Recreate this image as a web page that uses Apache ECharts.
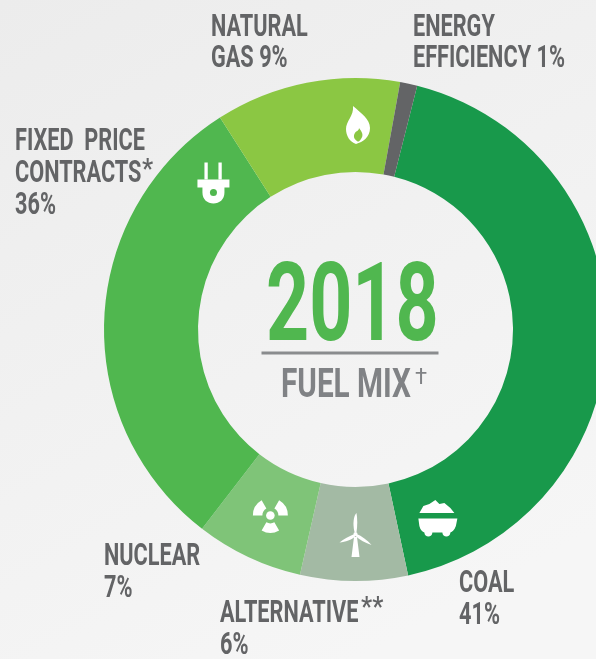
<!DOCTYPE html>
<html><head><meta charset="utf-8">
<style>html,body{margin:0;padding:0;background:#f0f0f0}#c{width:596px;height:659px}</style>
<script src="https://cdn.jsdelivr.net/npm/echarts@6/dist/echarts.min.js"></script>
</head><body><div id="c"></div>
<script>
// Clockwise from the top of the ring, as drawn (share of the circle)
const categories = ['Coal','Alternative','Nuclear','Fixed Price Contracts','Natural Gas','Energy Efficiency'];
const arcShares  = [42.7, 6.9, 6.9, 30.5, 11.9, 1.1];
const printedPct = [41, 6, 7, 36, 9, 1];
const colors     = ['#18994b','#a3baa4','#7fc478','#50b74f','#8bc743','#636466'];
const title = '2018';
const subtitle = 'FUEL MIX';

const FONT = 'Roboto,"Liberation Sans",sans-serif';
const CX = 355.5, CY = 329.5;
const INK = '#636466';

// x = left edge, y = baseline of capitals
function txt(s, x, y, size, sx, fill, weight){
  return {type:'text', x:x, y:y-0.745*size, scaleX:sx, silent:true,
    style:{text:s, x:0, y:0, fill:fill||INK, font:(weight||'700')+' '+size+'px '+FONT, textAlign:'left'}};
}
const S=31, SX=0.70;
const labels = [
  txt('NATURAL',211,36,S,SX), txt('GAS '+printedPct[4]+'%',211,67,S,SX),
  txt('ENERGY',413,36,S,SX), txt('EFFICIENCY '+printedPct[5]+'%',413,67,S,SX),
  txt('FIXED  PRICE',15,150,S,SX), txt('CONTRACTS',15,182,S,SX), txt('*',142,178,28,0.9,INK,'500'),
  txt(printedPct[3]+'%',15,214,S,SX),
  txt('NUCLEAR',104,565,S,SX), txt(printedPct[2]+'%',104,597,S,SX),
  txt('ALTERNATIVE',220,622,S,SX), txt('**',361,616,28,0.9,INK,'500'), txt(printedPct[1]+'%',220,654,S,SX),
  txt('COAL',459,592,S,SX), txt(printedPct[0]+'%',459,624,S,SX),
  txt(title,266,339,109,0.69,'#50b74f','700'),
  txt(subtitle,281,397,40,0.743,'#808285','700'),
  txt('\u2020',415,384,22,1,'#808285','400'),
  {type:'rect',silent:true,shape:{x:261.5,y:351.5,width:177,height:3},style:{fill:'#8a8c8e'}}
];

// Icons, one per slice, sitting at mid-ring
const iconAngles = {flame:0.7, plug:316, radiation:204.6, turbine:180, cart:156.4};
const iconNames = Object.keys(iconAngles);
const W='#ffffff';
function p(d,fill){return {type:'path',shape:{pathData:d},style:{fill:fill||W}};}
function blade(mid){const a=mid*Math.PI/180,h=Math.PI/6;
  return {type:'sector',shape:{cx:0,cy:0,r0:8,r:17.5,startAngle:a-h,endAngle:a+h,clockwise:true},style:{fill:W}};}
const iconParts = {
 flame:[p('M-5 -19C3 -12 12 -6 12 3C12 12 5 17 -2 19C-8 17 -12 11 -12 4C-12 -4 -4 -9 -5 -19Z'),
        p('M1 3C4 7 6 10 3 14C1 17 0 17 -1 16C-4 14 -5 11 -3 8C-2 6 1 6 1 3Z',colors[4])],
 plug:[p('M-9 -20H-5.7V-3H-9ZM5 -20H8.3V-3H5Z'),
       p('M-16 -3H16V5H11V10C11 17 6 21 0 21C-6 21 -11 17 -11 10V5H-16Z'),
       {type:'circle',shape:{cx:0,cy:10,r:3.5},style:{fill:colors[3]}}],
 radiation:[blade(-150),blade(-30),blade(90),{type:'circle',shape:{cx:0,cy:0,r:4.3},style:{fill:W}}],
 turbine:[p('M-1 -2C-3 -10 -2 -18 1 -21C2 -15 2 -8 1 -2Z'),
          p('M-1 0C-6 2 -12 5 -16 8.5C-10 8 -4 6 0 2Z'),
          p('M1 0C6 2 12 6 16 11C10 9 4 6 0 2Z'),
          p('M-1.5 3H1.5L4 23H-4Z'),
          {type:'circle',shape:{cx:0,cy:0,r:2},style:{fill:W}}],
 cart:[p('M-18 -4L-14 -11L-8 -13L-2 -17L2 -13L7 -14L13 -9L17 -4Z'),
       p('M-19 1.5H20L18.5 9C17 13 15 15 13 15.5C13 18 11 19.5 9 19.5C7 19.5 5 18 5 15.5H-5C-5 18 -7 19.5 -9 19.5C-11 19.5 -13 18 -13 15.5C-15 15 -17 13 -18 9Z')]
};

const chart = echarts.init(document.getElementById('c'),null,{renderer:'canvas'});
chart.setOption({
  animation:false,
  backgroundColor:{type:'linear',x:0,y:0,x2:0.6,y2:1,colorStops:[{offset:0,color:'#ececec'},{offset:1,color:'#f6f6f6'}]},
  graphic:{elements:labels},
  series:[
   {type:'pie',center:[CX,CY],radius:[157.5,251.5],startAngle:75.8,clockwise:true,silent:true,
    label:{show:false},labelLine:{show:false},
    itemStyle:{borderWidth:0},
    data:categories.map((n,i)=>({name:n,value:arcShares[i],itemStyle:{color:colors[i]}}))},
   {type:'custom',coordinateSystem:'none',silent:true,z:5,
    data:iconNames.map(n=>[iconAngles[n]]),
    renderItem:function(params,api){
      const a=api.value(0)*Math.PI/180, R=204.5;
      return {type:'group',x:CX+R*Math.sin(a),y:CY-R*Math.cos(a),children:iconParts[iconNames[params.dataIndex]]};
    }}
  ]
});
</script></body></html>
